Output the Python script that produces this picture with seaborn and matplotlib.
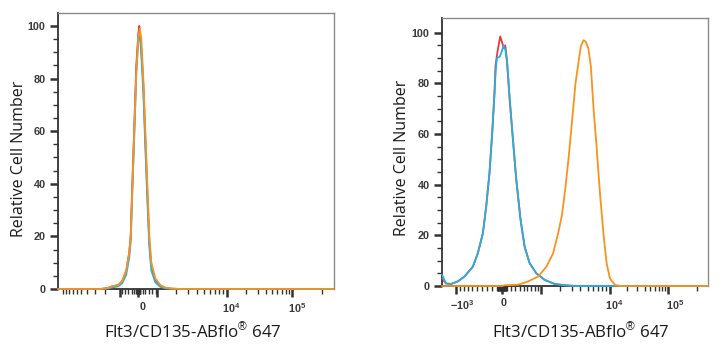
import numpy as np
import pandas as pd
import matplotlib
matplotlib.use("Agg")
import matplotlib.pyplot as plt
import seaborn as sns
from matplotlib.ticker import FixedLocator, FixedFormatter, NullFormatter
from matplotlib.transforms import ScaledTranslation

# ---------------- data (fluorescence value, relative cell number) ----------------
L_red_x = [-12000, -2435, -1827, -1470, -1108, -866, -622, -455, -376, -298, -197, -98, 0, 46, 120, 234, 331, 430, 533, 640, 873, 1135, 1381, 1720, 2342, 262144]
L_red_y = [0, 0, 0.3, 1, 1.5, 3, 7, 14, 21, 40, 62, 85, 97, 100, 94, 78, 57, 37, 18, 9, 3.5, 1.2, 0.4, 0.1, 0, 0]
L_cyan_x = [-12000, -2435, -1827, -1470, -1108, -866, -622, -455, -376, -298, -197, -98, 0, 46, 120, 234, 331, 430, 533, 640, 873, 1135, 1381, 1720, 2342, 262144]
L_cyan_y = [0, 0, 0.2, 0.6, 1.0, 2.2, 5.5, 12, 18, 36, 58, 82, 95, 97, 92, 75, 54, 34, 16, 7, 2.5, 0.8, 0.3, 0.1, 0, 0]
L_orange_x = [-12000, -2435, -1827, -1470, -1108, -866, -622, -455, -376, -298, -197, -98, 0, 70, 140, 234, 331, 430, 533, 640, 873, 1135, 1381, 1720, 2342, 262144]
L_orange_y = [0, 0, 0.3, 1, 1.5, 3, 7, 14, 20, 38, 60, 82, 95, 99, 95, 80, 60, 40, 20, 10, 4, 1.5, 0.5, 0.2, 0, 0]

R_red_x = [-1400, -1281, -1134, -955, -787, -591, -483, -378, -311, -246, -193, -148, -129, -102, -82, -38, 0, 34, 68, 102, 166, 244, 322, 426, 526, 657, 846, 1151, 1689, 2393, 3406, 262144]
R_red_y = [3.0, 1.0, 0.8, 1.8, 3.7, 7.6, 12.9, 20.8, 31.3, 44.5, 60.3, 76.2, 86.7, 91, 93.5, 98.5, 96, 94, 95, 90, 74, 57.7, 41.9, 26, 15.5, 9, 5, 2.4, 0.8, 0.3, 0, 0]
R_cyan_x = [-1400, -1281, -1134, -955, -787, -591, -483, -378, -311, -246, -193, -148, -125, -102, -48, -19, 29, 68, 113, 170, 244, 322, 426, 526, 657, 846, 1151, 1689, 2393, 3406, 262144]
R_cyan_y = [4.5, 1.0, 0.8, 1.8, 3.7, 7.6, 12.9, 20.8, 31.3, 44.5, 60.3, 76.2, 85, 90, 90.5, 92, 94.8, 93.5, 88, 74, 57.7, 41.9, 26, 15.5, 9, 5, 2.4, 0.8, 0.3, 0, 0]
R_orange_x = [-1400, 0, 52, 362, 614, 897, 1233, 1594, 1907, 2176, 2450, 2753, 3089, 3406, 3693, 4042, 4406, 4696, 5116, 5555, 6050, 6651, 7377, 8286, 9103, 10118, 12347, 15489, 262144]
R_orange_y = [0, 0, 0.3, 0.5, 1.8, 3.7, 7.6, 12.9, 20.8, 28, 39, 52, 67, 80, 87, 94.6, 97, 96.6, 94, 86.7, 70, 55, 37, 20, 9, 3, 0.4, 0, 0]

x_label = "Flt3/CD135-ABflo$^{®}$ 647"
y_label = "Relative Cell Number"
y_ticks = [0, 20, 40, 60, 80, 100]
x_major = [-1000, 0, 1000, 10000, 100000]
L_x_labels = ["", "0", "", r"$\mathbf{10^{4}}$", r"$\mathbf{10^{5}}$"]
R_x_labels = [r"$\mathbf{-10^{3}}$", "0", "", r"$\mathbf{10^{4}}$", r"$\mathbf{10^{5}}$"]

RED, CYAN, ORANGE = "#e8383d", "#22b0e0", "#f7931e"

# ---------------- style ----------------
sns.set_style("ticks")
plt.rcParams["font.family"] = ["Open Sans", "DejaVu Sans"]
plt.rcParams["mathtext.fontset"] = "custom"
plt.rcParams["mathtext.rm"] = "Liberation Sans"
plt.rcParams["mathtext.bf"] = "Liberation Sans:bold"


def biex_scale(vals, pos):
    u = np.arcsinh(np.asarray(vals, float) / 1000.0)
    p = np.asarray(pos, float)
    s0 = (p[1] - p[0]) / (u[1] - u[0])
    s1 = (p[-1] - p[-2]) / (u[-1] - u[-2])

    def fwd(x):
        uu = np.arcsinh(np.asarray(x, float) / 1000.0)
        out = np.interp(uu, u, p)
        out = np.where(uu < u[0], p[0] + (uu - u[0]) * s0, out)
        out = np.where(uu > u[-1], p[-1] + (uu - u[-1]) * s1, out)
        return out

    def inv(y):
        y = np.asarray(y, float)
        uu = np.interp(y, p, u)
        uu = np.where(y < p[0], u[0] + (y - p[0]) / s0, uu)
        uu = np.where(y > p[-1], u[-1] + (y - p[-1]) / s1, uu)
        return 1000.0 * np.sinh(uu)

    return fwd, inv


fig = plt.figure(figsize=(7.22, 3.5), dpi=100)
axL = fig.add_axes([58 / 722, 1 - 289 / 350, 276 / 722, 276 / 350])
axR = fig.add_axes([442 / 722, 1 - 286 / 350, 266 / 722, 268 / 350])

L_near0 = [20, 40, 60, 80, 100, 200, 300, 500, 700, 900]
R_near0 = [10, 20, 30, 40, 50, 60, 70, 80, 90, 100, 200, 300, 400, 500, 600, 700, 800, 900]

panels = [
    (axL, [-12000, -1000, 0, 1000, 10000, 100000, 262144], [58, 120, 138, 157, 226, 291, 333],
     (-12000, 262144), 104.9, L_x_labels, L_near0,
     [0, 4, 0, 5, 5], (-0.112, 0.471), (0.487, -0.12),
     [(L_red_x, L_red_y, RED), (L_cyan_x, L_cyan_y, CYAN), (L_orange_x, L_orange_y, ORANGE)]),
    (axR, [-1400, -1000, 0, 1000, 10000, 100000, 262144], [442, 456, 502, 541, 609, 667, 707],
     (-1400, 262144), 105.8, R_x_labels, R_near0,
     [6, 1, 0, 5, 7], (-0.12, 0.478), (0.523, -0.134),
     [(R_red_x, R_red_y, RED), (R_cyan_x, R_cyan_y, CYAN), (R_orange_x, R_orange_y, ORANGE)]),
]

for ax, kv, kp, xlim, ytop, xlabs, near0, shifts, ylc, xlc, series in panels:
    f, i = biex_scale(kv, kp)
    ax.set_xscale("function", functions=(f, i))
    for xs, ys, col in series:
        df = pd.DataFrame({"x": xs, "y": ys})
        sns.lineplot(data=df, x="x", y="y", ax=ax, color=col, lw=1.3,
                     sort=False, estimator=None, legend=False, zorder=3, clip_on=False)
    ax.set_xlim(*xlim)
    ax.set_ylim(0, ytop)

    # x ticks
    minors = []
    for v in near0:
        minors += [v, -v]
    for d in [1000, 10000, 100000]:
        for m in range(2, 10):
            for sgn in (-1, 1):
                minors.append(sgn * m * d)
    minors.append(-10000)
    minors = sorted(set(v for v in minors if xlim[0] <= v <= xlim[1] and v not in x_major))
    ax.xaxis.set_major_locator(FixedLocator(x_major))
    ax.xaxis.set_major_formatter(FixedFormatter(xlabs))
    ax.xaxis.set_minor_locator(FixedLocator(minors))
    ax.xaxis.set_minor_formatter(NullFormatter())

    # y ticks
    ax.yaxis.set_major_locator(FixedLocator(y_ticks))
    ax.yaxis.set_minor_locator(FixedLocator(list(range(5, 105, 5))))
    ax.set_yticklabels([str(v) for v in y_ticks])

    ax.tick_params(axis="both", which="major", length=6, width=1.8, color="#333333",
                   labelsize=7.8, labelcolor="#3a3a3a", pad=3, direction="out")
    ax.tick_params(axis="both", which="minor", length=3.5, width=1.0, color="#333333",
                   direction="out")
    for lab in ax.get_xticklabels() + ax.get_yticklabels():
        lab.set_fontfamily("Liberation Sans")
        lab.set_fontweight("bold")

    for side in ["top", "right"]:
        ax.spines[side].set_color("#8a8a8a")
        ax.spines[side].set_linewidth(1.0)
    for side in ["left", "bottom"]:
        ax.spines[side].set_color("#333333")
        ax.spines[side].set_linewidth(1.3)

    ax.set_xlabel(x_label, fontsize=12.2, color="#1a1a1a")
    ax.set_ylabel(y_label, fontsize=11.5, color="#1a1a1a")
    ax.yaxis.set_label_coords(*ylc)
    ax.xaxis.set_label_coords(*xlc)

fig.canvas.draw()
for ax, shifts in [(axL, [0, 4, 0, 5, 5]), (axR, [6, 1, 0, 5, 7])]:
    for lab, s in zip(ax.xaxis.get_majorticklabels(), shifts):
        lab.set_transform(lab.get_transform() + ScaledTranslation(s / 100.0, 0, fig.dpi_scale_trans))

fig.savefig("out.png", dpi=100)
